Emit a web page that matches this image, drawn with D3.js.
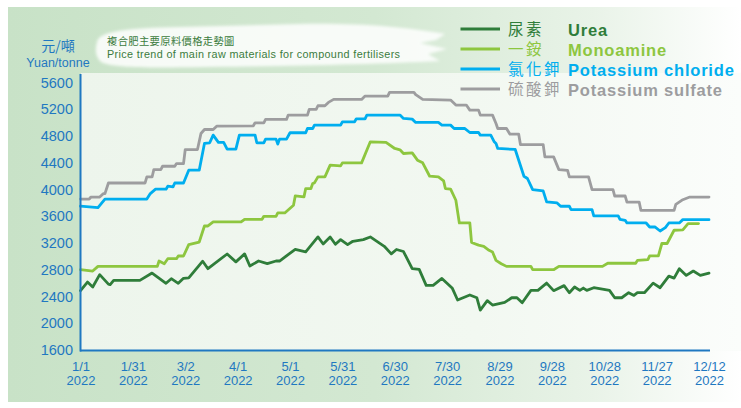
<!DOCTYPE html>
<html>
<head>
<meta charset="utf-8">
<script src="https://cdn.jsdelivr.net/npm/d3@7"></script>
<style>
  html, body { margin: 0; padding: 0; background: #ffffff; }
  svg { display: block; }
</style>
</head>
<body>
<svg id="chart" width="741" height="408"></svg>
<script>
// ---------------- DATA ----------------
const xTickPos = [0, 30, 60, 90, 120, 150, 180, 210, 240, 270, 300, 330, 360];
const xTickLabels = ["1/1", "1/31", "3/2", "4/1", "5/1", "5/31", "6/30", "7/30", "8/29", "9/28", "10/28", "11/27", "12/12"];
const xTickYear = "2022";
const yTicks = [1600, 2000, 2400, 2800, 3200, 3600, 4000, 4400, 4800, 5200, 5600];

const seriesZh = ["尿素", "一銨", "氯化鉀", "硫酸鉀"];
const seriesEn = ["Urea", "Monoamine", "Potassium chloride", "Potassium sulfate"];

// [position (30 units per axis label step), price in yuan/tonne]
const urea = [[0,2480],[4,2609],[7,2534],[11,2720],[16,2578],[17,2570],[19,2634],[34,2634],[41,2743],[49,2590],[52,2659],[56,2590],[59,2665],[62,2670],[70,2920],[73,2808],[84,3028],[89,2910],[94,3030],[97,2848],[102,2923],[107,2883],[112,2923],[114,2923],[123,3098],[129,3060],[136,3283],[139,3178],[143,3283],[146,3173],[149,3243],[153,3168],[156,3218],[162,3243],[166,3283],[174,3143],[178,3030],[181,3095],[185,3065],[190,2808],[194,2798],[198,2559],[202,2559],[207,2663],[213,2515],[216,2340],[223,2415],[227,2374],[229,2190],[233,2330],[236,2265],[243,2305],[247,2374],[250,2374],[253,2300],[258,2484],[262,2484],[267,2593],[271,2480],[277,2555],[280,2449],[283,2534],[286,2484],[288,2519],[290,2484],[294,2524],[303,2484],[306,2374],[310,2374],[314,2449],[317,2409],[319,2449],[323,2449],[328,2593],[332,2524],[337,2698],[340,2668],[343,2808],[347,2708],[351,2773],[355,2708],[360,2743]];

const monoamine = [[0,2794],[7,2773],[10,2843],[44,2843],[45,2923],[48,2883],[50,2958],[55,2958],[56,2998],[59,2998],[62,3168],[68,3207],[71,3447],[73,3447],[76,3507],[92,3507],[94,3547],[104,3547],[105,3592],[112,3592],[113,3642],[117,3642],[122,3757],[123,3897],[128,3882],[129,4007],[132,4007],[133,4082],[134,4091],[136,4181],[140,4181],[143,4356],[149,4346],[150,4391],[161,4391],[166,4706],[175,4696],[180,4606],[183,4586],[185,4531],[190,4541],[193,4431],[196,4391],[200,4191],[205,4181],[208,4121],[209,4007],[212,3997],[215,3832],[217,3492],[223,3492],[224,3200],[228,3160],[231,3143],[234,3083],[236,3058],[238,2933],[241,2883],[244,2843],[258,2843],[259,2793],[271,2793],[274,2843],[299,2843],[302,2890],[318,2890],[319,2933],[325,2943],[326,3000],[331,3000],[333,3185],[336,3185],[340,3383],[345,3390],[348,3483],[354,3483]];

const potassiumChloride = [[0,3745],[10,3722],[14,3850],[38,3850],[40,3932],[43,3997],[49,3997],[50,4042],[53,4032],[54,4090],[59,4090],[62,4281],[68,4281],[71,4681],[74,4691],[76,4806],[79,4697],[82,4697],[84,4596],[89,4596],[91,4806],[100,4806],[101,4691],[105,4691],[106,4746],[112,4746],[113,4671],[114,4746],[118,4746],[120,4841],[129,4841],[130,4905],[133,4905],[134,4955],[149,4955],[150,5005],[157,5005],[158,5050],[163,5050],[164,5105],[183,5105],[185,5055],[190,5045],[192,4995],[205,4995],[207,4955],[212,4955],[214,4905],[220,4905],[223,4845],[228,4845],[229,4806],[235,4806],[237,4706],[238,4681],[239,4606],[249,4591],[254,4191],[256,4157],[259,3992],[265,3971],[267,3807],[273,3792],[275,3742],[280,3742],[281,3692],[293,3692],[294,3597],[308,3597],[309,3547],[312,3532],[313,3492],[324,3492],[326,3432],[329,3432],[332,3372],[335,3422],[337,3492],[343,3492],[345,3542],[360,3542]];

const potassiumSulfate = [[0,3850],[5,3850],[6,3880],[11,3880],[13,3930],[14,3930],[16,4090],[37,4090],[38,4180],[41,4180],[42,4290],[46,4290],[47,4340],[54,4340],[55,4380],[59,4380],[60,4590],[67,4590],[69,4830],[71,4890],[76,4890],[78,4940],[99,4945],[100,4990],[105,4990],[106,5040],[118,5040],[119,5105],[130,5105],[131,5190],[135,5190],[136,5245],[140,5245],[142,5295],[145,5340],[161,5340],[163,5390],[176,5390],[177,5445],[191,5445],[192,5410],[196,5340],[212,5330],[215,5255],[221,5255],[223,5180],[228,5180],[229,5105],[236,5105],[238,4980],[239,4905],[244,4905],[246,4820],[251,4820],[252,4665],[265,4665],[266,4480],[271,4480],[274,4290],[279,4280],[280,4180],[291,4180],[293,3990],[305,3990],[306,3895],[312,3895],[313,3805],[320,3805],[321,3680],[340,3680],[341,3770],[345,3840],[349,3880],[360,3880]];

const seriesData = [urea, monoamine, potassiumChloride, potassiumSulfate];

// ---------------- STYLE ----------------
const seriesColors = ["#2f7d3a", "#8dc63f", "#00aeef", "#9d9d9f"];
const axisBlue = "#1f78c1";
const titleGreen = "#3b7b3d";

const svg = d3.select("#chart");
const defs = svg.append("defs");

const gPanel = defs.append("linearGradient").attr("id", "panelGrad").attr("x1", 0).attr("x2", 1).attr("y1", 0).attr("y2", 0);
gPanel.append("stop").attr("offset", "0").attr("stop-color", "#c8e2c7");
gPanel.append("stop").attr("offset", "0.5").attr("stop-color", "#d3e8d2");
gPanel.append("stop").attr("offset", "0.8").attr("stop-color", "#e9f3e8");
gPanel.append("stop").attr("offset", "1").attr("stop-color", "#ffffff");

const gPlot = defs.append("linearGradient").attr("id", "plotGrad").attr("x1", 0).attr("x2", 1).attr("y1", 0).attr("y2", 0);
gPlot.append("stop").attr("offset", "0").attr("stop-color", "#edf5ec");
gPlot.append("stop").attr("offset", "0.6").attr("stop-color", "#f2f8f1");
gPlot.append("stop").attr("offset", "1").attr("stop-color", "#fbfdfb");

defs.append("filter").attr("id", "soft").attr("x", "-10%").attr("y", "-30%").attr("width", "120%").attr("height", "160%")
  .append("feGaussianBlur").attr("stdDeviation", 1.6);

// Panel background
svg.append("rect").attr("x", 8).attr("y", 7).attr("width", 733).attr("height", 395).attr("fill", "url(#panelGrad)");

// Scales
const x = d3.scaleLinear().domain([0, 360]).range([80.5, 709]);
const y = d3.scaleLinear().domain([1600, 5600]).range([349.5, 82]);

// Plot area background
svg.append("rect").attr("x", 81).attr("y", 73).attr("width", 660).attr("height", 278).attr("fill", "url(#plotGrad)");

// Brush stroke behind title
svg.append("path")
  .attr("d", "M97,42 C99,31 128,28 180,27 L300,24 C360,23 405,27 445,34 L436,40 L420,43 L447,49 L428,54 L440,61 C380,64 300,66 205,67 C150,68 112,68 101,62 C95,56 95,49 97,42 Z")
  .attr("fill", "#ffffff").attr("opacity", 0.85).attr("filter", "url(#soft)");

// Unit labels
svg.append("text").attr("x", 58).attr("y", 51).attr("text-anchor", "middle")
  .attr("font-family", "'Noto Sans CJK TC', 'Noto Sans CJK SC', sans-serif").attr("font-size", 14)
  .attr("fill", axisBlue).text("元/噸");
svg.append("text").attr("x", 58).attr("y", 66.5).attr("text-anchor", "middle")
  .attr("font-family", "'Liberation Sans', Arial, sans-serif").attr("font-size", 12.5)
  .attr("fill", axisBlue).text("Yuan/tonne");

// Title
svg.append("text").attr("x", 107).attr("y", 44.5)
  .attr("font-family", "'Noto Sans CJK TC', 'Noto Sans CJK SC', sans-serif").attr("font-size", 10.3)
  .attr("letter-spacing", 0.35).attr("fill", titleGreen).text("複合肥主要原料價格走勢圖");
svg.append("text").attr("x", 107).attr("y", 58)
  .attr("font-family", "'Liberation Sans', Arial, sans-serif").attr("font-size", 10.8)
  .attr("letter-spacing", 0.35).attr("fill", titleGreen).text("Price trend of main raw materials for compound fertilisers");

// Y axis (labels)
const yAxis = d3.axisLeft(y).tickValues(yTicks).tickSize(0).tickPadding(7.5).tickFormat(d3.format("d"));
const gy = svg.append("g").attr("transform", "translate(80.5,0)").call(yAxis);
gy.select(".domain").remove();
gy.selectAll("text").attr("font-family", "'Liberation Sans', Arial, sans-serif").attr("font-size", 14.5)
  .attr("fill", axisBlue).attr("dy", "0.36em");

// X axis (labels)
const xAxis = d3.axisBottom(x).tickValues(xTickPos).tickSize(0).tickFormat(() => "");
const gx = svg.append("g").attr("transform", "translate(0,350.5)").call(xAxis);
gx.select(".domain").remove();
gx.selectAll(".tick text").each(function(d, i) {
  const t = d3.select(this).attr("y", 0).attr("dy", null)
    .attr("font-family", "'Liberation Sans', Arial, sans-serif").attr("font-size", 13).attr("fill", axisBlue);
  t.append("tspan").attr("x", 0).attr("y", 20.5).text(xTickLabels[i]);
  t.append("tspan").attr("x", 0).attr("y", 34.5).text(xTickYear);
});

// Series lines
const line = d3.line().x(d => x(d[0])).y(d => y(d[1]));
const drawOrder = [3, 2, 1, 0];
svg.append("g").selectAll("path").data(drawOrder).join("path")
  .attr("d", i => line(seriesData[i]))
  .attr("fill", "none").attr("stroke", i => seriesColors[i])
  .attr("stroke-width", 2.8).attr("stroke-linejoin", "round").attr("stroke-linecap", "round");

// Axis lines
svg.append("line").attr("x1", 80.5).attr("x2", 80.5).attr("y1", 74).attr("y2", 351.5)
  .attr("stroke", axisBlue).attr("stroke-width", 2);
svg.append("line").attr("x1", 80).attr("x2", 710).attr("y1", 350.5).attr("y2", 350.5)
  .attr("stroke", axisBlue).attr("stroke-width", 2);

// Legend
const legendY = [29, 49, 69, 89];
const lg = svg.append("g").selectAll("g").data(seriesEn).join("g")
  .attr("transform", (d, i) => `translate(0,${legendY[i]})`);
lg.append("line").attr("x1", 460.5).attr("x2", 500).attr("y1", 0).attr("y2", 0)
  .attr("stroke", (d, i) => seriesColors[i]).attr("stroke-width", 2.8);
lg.append("text").attr("x", 508).attr("y", 6)
  .attr("font-family", "'Noto Sans CJK TC', 'Noto Sans CJK SC', sans-serif").attr("font-size", 15.5)
  .attr("letter-spacing", 2.5).attr("fill", (d, i) => seriesColors[i]).text((d, i) => seriesZh[i]);
lg.append("text").attr("x", 568).attr("y", 6.5)
  .attr("font-family", "'Liberation Sans', Arial, sans-serif").attr("font-size", 16.5).attr("font-weight", "bold")
  .attr("letter-spacing", 0.8).attr("fill", (d, i) => seriesColors[i]).text(d => d);
</script>
</body>
</html>
